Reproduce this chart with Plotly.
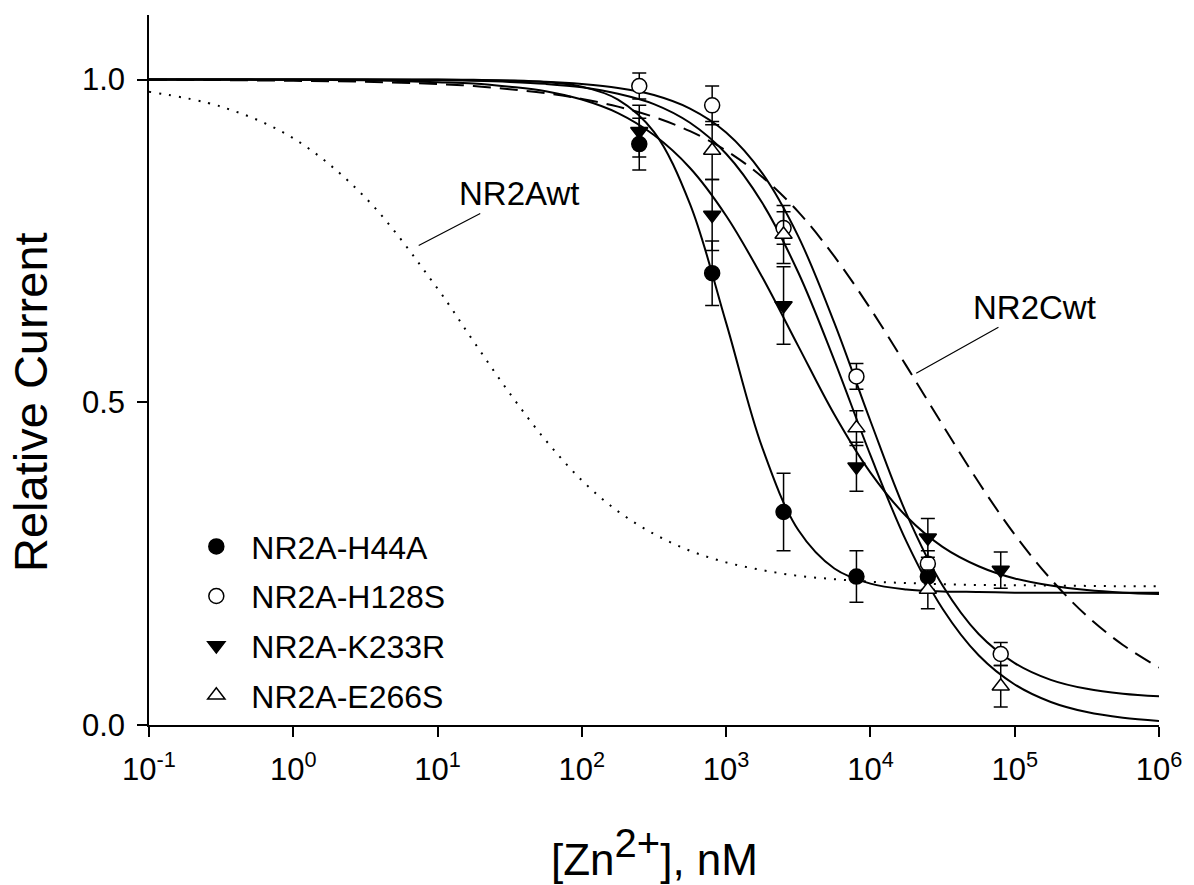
import numpy as np
import plotly.graph_objects as go

# ---------------- data ----------------
# measured points (Zn2+ concentration in nM)
h44a_x = [250, 800, 2500, 8000, 25000]
h44a_y = [0.90, 0.70, 0.33, 0.23, 0.23]
h44a_err = [0.04, 0.05, 0.06, 0.04, 0.02]

h128s_x = [250, 800, 2500, 8000, 25000, 80000]
h128s_y = [0.99, 0.96, 0.77, 0.54, 0.25, 0.11]
h128s_err = [0.02, 0.03, 0.025, 0.02, 0.02, 0.018]

k233r_x = [250, 800, 2500, 8000, 25000, 80000]
k233r_y = [0.92, 0.79, 0.65, 0.40, 0.29, 0.24]
k233r_err = [0.04, 0.055, 0.06, 0.038, 0.03, 0.028]

e266s_x = [800, 2500, 8000, 25000, 80000]
e266s_y = [0.89, 0.76, 0.46, 0.21, 0.06]
e266s_err = [0.045, 0.045, 0.027, 0.03, 0.032]

# fitted curves at quarter/half decades
curve_x = [0.1, 0.316, 1, 3.16, 10, 17.8, 31.6, 56.2, 100, 178, 316, 562,
           1000, 1778, 3162, 5623, 10000, 17783, 31623, 56234, 100000,
           177828, 316228, 562341, 1000000]
fit_nr2awt = [0.981, 0.958, 0.909, 0.817, 0.676, 0.594, 0.514, 0.441, 0.379, 0.331,
              0.296, 0.270, 0.252, 0.240, 0.231, 0.226, 0.222, 0.220, 0.218, 0.217,
              0.2165, 0.216, 0.2155, 0.215, 0.215]
fit_nr2cwt = [0.9996, 0.9992, 0.998, 0.9965, 0.993, 0.990, 0.985, 0.979, 0.970, 0.958,
              0.942, 0.920, 0.890, 0.849, 0.795, 0.726, 0.645, 0.556, 0.465, 0.376,
              0.295, 0.226, 0.169, 0.124, 0.089]
fit_h44a = [1.0, 1.0, 1.0, 1.0, 1.0, 0.9995, 0.9986, 0.996, 0.989, 0.969,
            0.919, 0.807, 0.623, 0.430, 0.302, 0.2425, 0.219, 0.210, 0.207, 0.206,
            0.205, 0.205, 0.205, 0.205, 0.205]
fit_h128s = [1.0, 1.0, 1.0, 1.0, 0.9995, 0.999, 0.998, 0.9965, 0.993, 0.987,
             0.976, 0.955, 0.918, 0.855, 0.757, 0.623, 0.471, 0.327, 0.216, 0.141,
             0.096, 0.070, 0.056, 0.0485, 0.0445]
fit_k233r = [1.0, 1.0, 0.9996, 0.9988, 0.996, 0.994, 0.989, 0.982, 0.969, 0.948,
             0.914, 0.863, 0.789, 0.694, 0.587, 0.481, 0.391, 0.323, 0.276, 0.246,
             0.227, 0.216, 0.209, 0.205, 0.203]
fit_e266s = [1.0, 1.0, 1.0, 0.9998, 0.9989, 0.998, 0.9963, 0.9933, 0.988, 0.978,
             0.962, 0.933, 0.885, 0.809, 0.701, 0.565, 0.418, 0.284, 0.180, 0.108,
             0.0628, 0.0357, 0.0200, 0.0112, 0.0062]

x_tickvals = [0.1, 1, 10, 100, 1000, 10000, 100000, 1000000]
x_ticktext = ["10<sup>-1</sup>", "10<sup>0</sup>", "10<sup>1</sup>", "10<sup>2</sup>",
              "10<sup>3</sup>", "10<sup>4</sup>", "10<sup>5</sup>", "10<sup>6</sup>"]
y_tickvals = [0.0, 0.5, 1.0]

FONT = "Liberation Sans, Arial, sans-serif"

fig = go.Figure()

# curves
def add_curve(y, dash, width=2):
    fig.add_trace(go.Scatter(x=curve_x, y=y, mode="lines", showlegend=False,
                             line=dict(color="black", width=width, dash=dash, shape="spline"),
                             hoverinfo="skip"))

add_curve(fit_nr2awt, "2px,8px", 2)
add_curve(fit_nr2cwt, "18px,9px", 2)
add_curve(fit_h44a, "solid")
add_curve(fit_h128s, "solid")
add_curve(fit_k233r, "solid")
add_curve(fit_e266s, "solid")

# data points
def add_points(x, y, err, name, symbol, filled):
    fig.add_trace(go.Scatter(
        x=x, y=y, mode="markers", name=name, legendgroup=name,
        marker=dict(symbol=symbol, size=15,
                    color="black" if filled else "white",
                    line=dict(color="black", width=1.5)),
        error_y=dict(type="data", array=err, visible=True, color="black",
                     thickness=1.5, width=7),
    ))

add_points(h44a_x, h44a_y, h44a_err, "NR2A-H44A", "circle", True)
add_points(h128s_x, h128s_y, h128s_err, "NR2A-H128S", "circle", False)
add_points(k233r_x, k233r_y, k233r_err, "NR2A-K233R", "triangle-down", True)
add_points(e266s_x, e266s_y, e266s_err, "NR2A-E266S", "triangle-up", False)

fig.update_layout(
    width=1194, height=885,
    margin=dict(l=149, r=29, t=15, b=160),
    paper_bgcolor="white", plot_bgcolor="white",
    font=dict(family=FONT, size=32, color="black"),
    showlegend=True,
    legend=dict(x=0.032, y=0.29, xanchor="left", yanchor="top",
                bgcolor="rgba(0,0,0,0)", font=dict(size=32),
                tracegroupgap=5, itemwidth=60, itemsizing="trace"),
    xaxis=dict(type="log", range=[-1, 6], tickvals=x_tickvals, ticktext=x_ticktext,
               showgrid=False, zeroline=False, showline=True, linecolor="black",
               linewidth=1.5, ticks="outside", ticklen=10, tickwidth=1.5,
               tickcolor="black", tickfont=dict(size=31), ticklabelstandoff=6),
    yaxis=dict(range=[0, 1.1], tickvals=y_tickvals, tickformat=".1f",
               showgrid=False, zeroline=False, showline=True, linecolor="black",
               linewidth=1.5, ticks="outside", ticklen=10, tickwidth=1.5,
               tickcolor="black", tickfont=dict(size=31), ticklabelstandoff=6),
    annotations=[
        dict(text="Relative Current", xref="paper", yref="y",
             x=(30 - 149) / 1016, y=0.5, textangle=-90, showarrow=False,
             font=dict(size=47), xanchor="center", yanchor="middle"),
        dict(text="[Zn<sup><span style='font-size:40px'>2+</span></sup>], nM",
             xref="paper", yref="paper",
             x=0.5, y=(725 - 852) / 710, showarrow=False,
             font=dict(size=44), xanchor="center", yanchor="middle"),
        dict(text="NR2Awt", x=np.log10(7.4), y=0.743, xref="x", yref="y",
             showarrow=True, arrowhead=0, arrowwidth=1.2, arrowcolor="black",
             ax=100, ay=-52, font=dict(size=33)),
        dict(text="NR2Cwt", x=np.log10(20760), y=0.545, xref="x", yref="y",
             showarrow=True, arrowhead=0, arrowwidth=1.2, arrowcolor="black",
             ax=118, ay=-66, font=dict(size=33)),
    ],
)

fig.write_html("out.html")
